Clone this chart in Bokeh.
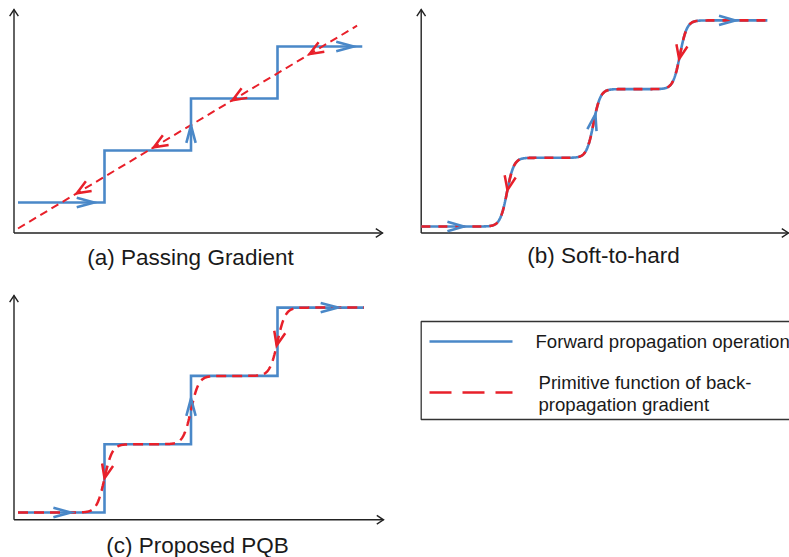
import math
import numpy as np
from bokeh.plotting import figure
from bokeh.models import Range1d
from bokeh.layouts import column, row
from bokeh.embed import file_html
from bokeh.resources import INLINE
from bokeh.core.properties import value

# ---------------- data ----------------
step_edges = [1.0, 2.0, 3.0]
step_levels = [0.0, 1.0, 2.0, 3.0]
fwd_x_start = 0.0
fwd_x_end = 4.0

# (a) passing gradient: straight line through the steps
pass_x = [0.0, 3.92]
pass_y = [-0.5, 3.40]

# (b) soft-to-hard transition width, (c) PQB backward transition width
soft_width_b = 0.08
soft_width_c = 0.09

# arrow positions
a_fwd_x = [0.88, 2.0, 3.88]
a_fwd_y = [0.0, 1.48, 3.0]
a_fwd_dir = [(1, 0), (0, 1), (1, 0)]
a_back_x = [0.68, 1.57, 2.48, 3.37]

b_fwd_x = [0.50, 2.022, 3.64]
b_back_x = [1.005, 2.99]

c_fwd_x = [0.61, 2.0, 3.70]
c_fwd_y = [0.0, 1.67, 3.0]
c_fwd_dir = [(1, 0), (0, 1), (1, 0)]
c_back_x = [1.0, 2.99]

titles = ["(a) Passing Gradient", "(b) Soft-to-hard", "(c) Proposed PQB"]
legend_labels = ["Forward propagation operation",
                 "Primitive function of back-", "propagation gradient"]

BLUE = "#4a88c8"
RED = "#e8202a"
AXIS = "#222222"
TXT = "#1a1a1a"
FONT = "Liberation Sans"


def step_path(edges, levels, x0, x1):
    xs, ys = [x0], [levels[0]]
    for i, e in enumerate(edges):
        xs += [e, e]
        ys += [levels[i], levels[i + 1]]
    xs.append(x1)
    ys.append(levels[-1])
    return xs, ys


def soft_path(edges, levels, x0, x1, w, n=800):
    x = np.linspace(x0, x1, n)
    y = np.full_like(x, levels[0])
    for i, e in enumerate(edges):
        y += (levels[i + 1] - levels[i]) * 0.5 * (1 + np.tanh((x - e) / w))
    return x, y


class Panel:
    def __init__(self, W, H, x0, y0, sx, sy):
        self.sx, self.sy, self.x0, self.y0 = sx, sy, x0, y0
        self.p = figure(width=W, height=H, output_backend="svg",
                        toolbar_location=None,
                        x_range=Range1d(-x0 / sx, (W - x0) / sx),
                        y_range=Range1d((y0 - H) / sy, y0 / sy),
                        x_axis_location=None, y_axis_location=None,
                        min_border=0, outline_line_color=None,
                        background_fill_color="white",
                        border_fill_color="white")
        self.p.grid.visible = False

    def ux(self, px):
        return (px - self.x0) / self.sx

    def uy(self, py):
        return (self.y0 - py) / self.sy

    def chevron(self, x, y, tx, ty, L, ang, color, lw):
        vx, vy = tx * self.sx, ty * self.sy
        n = math.hypot(vx, vy)
        vx, vy = vx / n, vy / n
        bx, by = -vx, -vy
        pts = []
        for s in (1, -1):
            a = math.radians(ang) * s
            rx = bx * math.cos(a) - by * math.sin(a)
            ry = bx * math.sin(a) + by * math.cos(a)
            pts.append((x + rx * L / self.sx, y + ry * L / self.sy))
        self.p.line([pts[0][0], x, pts[1][0]], [pts[0][1], y, pts[1][1]],
                    line_color=color, line_width=lw, line_join="miter",
                    line_cap="butt")

    def axes(self, ox, oy, xend, ytop):
        p = self.p
        p.line([self.ux(ox), self.ux(xend)], [self.uy(oy), self.uy(oy)],
               line_color=AXIS, line_width=1.4)
        p.line([self.ux(ox), self.ux(ox)], [self.uy(oy), self.uy(ytop)],
               line_color=AXIS, line_width=1.4)
        self.chevron(self.ux(xend), self.uy(oy), 1, 0, 8, 33, AXIS, 1.4)
        self.chevron(self.ux(ox), self.uy(ytop), 0, 1, 8, 33, AXIS, 1.4)

    def title(self, text, px, py):
        self.p.text(x=[self.ux(px)], y=[self.uy(py)], text=[text],
                    text_align="center", text_baseline="middle",
                    text_font=value(FONT), text_font_size="22.5px",
                    text_color=TXT)


def tangent(xs, ys, x):
    h = 1e-3
    y1 = np.interp(x - h, xs, ys)
    y2 = np.interp(x + h, xs, ys)
    return np.interp(x, xs, ys), 2 * h, (y2 - y1)


# ---------------- panel (a) ----------------
A = Panel(394, 270, 17.5, 202, 86.5, 52)
A.axes(13.5, 232.5, 382, 9)
sx_, sy_ = step_path(step_edges, step_levels, fwd_x_start, 3.98)
A.p.line(sx_, sy_, line_color=BLUE, line_width=2.6, line_join="miter")
A.p.line(pass_x, pass_y, line_color=RED, line_width=2, line_dash="8 5")
for x, y, d in zip(a_fwd_x, a_fwd_y, a_fwd_dir):
    A.chevron(x, y, d[0], d[1], 18, 15, BLUE, 2.6)
for x in a_back_x:
    y, tx, ty = tangent(pass_x, pass_y, x)
    A.chevron(x, y, -tx, -ty, 15, 22, RED, 2.5)
A.title(titles[0], 190, 257)

# ---------------- panel (b) ----------------
B = Panel(395, 270, 26, 226, 86.5, 68.7)
B.axes(26.7, 232.5, 394, 9)
bx, by = soft_path(step_edges, step_levels, 0.01, 4.01, soft_width_b)
B.p.line(bx, by, line_color=BLUE, line_width=2.6)
B.p.line(bx, by, line_color=RED, line_width=2.6, line_dash="9 8")
for x in b_fwd_x:
    y, tx, ty = tangent(bx, by, x)
    B.chevron(x, y, tx, ty, 17, 16, BLUE, 2.6)
for x in b_back_x:
    y, tx, ty = tangent(bx, by, x)
    B.chevron(x, y, -tx, -ty, 15, 22, RED, 2.5)
B.title(titles[1], 209, 255)

# ---------------- panel (c) ----------------
C = Panel(394, 287, 17.5, 242, 86.5, 68.3)
C.axes(13.5, 249.3, 383, 25)
cxs, cys = step_path(step_edges, step_levels, fwd_x_start, fwd_x_end)
C.p.line(cxs, cys, line_color=BLUE, line_width=2.6, line_join="miter")
rx, ry = soft_path(step_edges, step_levels, fwd_x_start, fwd_x_end, soft_width_c)
C.p.line(rx, ry, line_color=RED, line_width=2.5, line_dash="10 6")
for x, y, d in zip(c_fwd_x, c_fwd_y, c_fwd_dir):
    C.chevron(x, y, d[0], d[1], 18, 15, BLUE, 2.6)
for x in c_back_x:
    y, tx, ty = tangent(rx, ry, x)
    C.chevron(x, y, -tx, -ty, 15, 22, RED, 2.5)
C.title(titles[2], 197, 275)

# ---------------- legend ----------------
L = figure(width=395, height=287, output_backend="svg", toolbar_location=None,
           x_range=Range1d(0, 395), y_range=Range1d(287, 0),
           x_axis_location=None, y_axis_location=None, min_border=0,
           outline_line_color=None, background_fill_color="white",
           border_fill_color="white")
L.grid.visible = False
L.line([420, 26.7, 26.7, 420], [51, 51, 149, 149], line_color="#333333",
       line_width=1.3)
L.line([35, 118], [71, 71], line_color=BLUE, line_width=2.6)
L.line([35, 118], [122, 122], line_color=RED, line_width=2.6, line_dash="22 11")
L.text(x=[141, 144, 144], y=[71, 112, 134], text=legend_labels,
       text_baseline="middle", text_font=value(FONT), text_font_size="18.6px",
       text_color=TXT)

layout = column(row(A.p, B.p), row(C.p, L))
open("out.html", "w").write(file_html(layout, INLINE))
